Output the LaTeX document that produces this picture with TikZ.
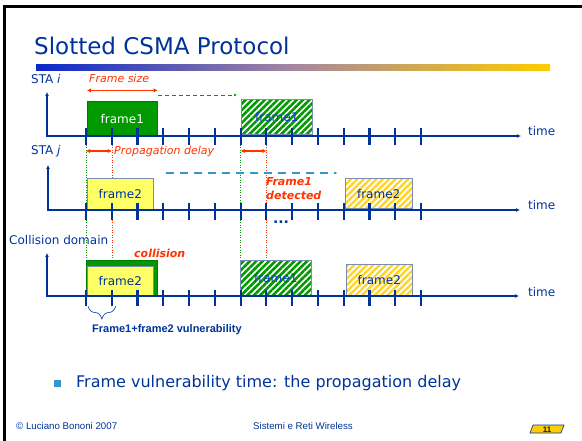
\documentclass[tikz,border=0pt]{standalone}
\usepackage{fontspec}
\setmainfont{DejaVu Sans}
\newfontfamily\arialfont{Liberation Sans}
\usetikzlibrary{arrows.meta,positioning,patterns.meta,decorations.pathreplacing,backgrounds}

\definecolor{slideblue}{RGB}{0,51,153}
\definecolor{brightblue}{RGB}{20,60,200}
\definecolor{barblue}{RGB}{10,40,200}
\definecolor{barmid}{RGB}{165,135,160}
\definecolor{slidegreen}{RGB}{0,153,0}
\definecolor{redorange}{RGB}{255,51,0}
\definecolor{paleyellow}{RGB}{255,255,102}
\definecolor{gold}{RGB}{255,204,0}
\definecolor{skyblue}{RGB}{51,153,204}
\definecolor{greyblue}{RGB}{120,140,180}

\begin{document}
\begin{tikzpicture}[x=1pt, y=-1pt,
    timeaxis/.style={slideblue, line width=2pt, {Latex[length=4pt,width=4pt]}-{Latex[length=4pt,width=4pt]}},
    slot/.style={slideblue, line width=2.2pt},
    lbl/.style={anchor=west, text=slideblue, inner sep=0pt, font=\fontsize{12}{14}\selectfont},
    note/.style={anchor=west, text=redorange, inner sep=0pt, font=\fontsize{11}{14}\selectfont\itshape},
    frm/.style={anchor=south west, inner sep=0pt, line width=0.6pt, font=\fontsize{12}{14}\selectfont},
    solidgreen/.style={frm, fill=slidegreen, draw=slidegreen!80!black, text=white},
    solidyellow/.style={frm, fill=paleyellow, draw=greyblue, text=slideblue},
    hatchgreen/.style={frm, draw=greyblue, text=brightblue, pattern={Lines[angle=45,distance=4.5pt,line width=2.6pt]}, pattern color=slidegreen},
    hatchyellow/.style={frm, draw=greyblue, text=slideblue, pattern={Lines[angle=45,distance=4.5pt,line width=2.4pt]}, pattern color=gold!85},
    delay/.style={redorange, line width=1.5pt, {Latex[length=4pt,width=4.5pt]}-{Latex[length=4pt,width=4.5pt]}},
    vline/.style={line width=0.5pt, dotted}
  ]
  \useasboundingbox (0,0) rectangle (582,441);
  \draw[line width=3pt] (4.3,441) -- (4.3,6.7) -- (582,6.7);

  \node[anchor=west, inner sep=0pt, text=slideblue, font=\fontsize{23}{26}\selectfont] (title) at (34,46) {Slotted CSMA Protocol};
  \shade[left color=barblue, right color=gold, middle color=barmid] (36,65) rectangle (550,71);

  \foreach \k in {0,...,13} {
    \path (86+25.77*\k,136) coordinate (si\k)
          (86+25.77*\k,210) coordinate (sj\k)
          (86+25.77*\k,296) coordinate (sc\k);
  }

  \node[solidgreen, minimum width=70, minimum height=34] (f1i) at (87,136) {frame1};
  \node[hatchgreen, minimum width=71, minimum height=35] (f1ib) at (240,136) {frame1};
  \node[solidyellow, minimum width=66, minimum height=31] (f2j) at (87,210) {frame2};
  \node[hatchyellow, minimum width=67, minimum height=30] (f2jb) at (344,210) {frame2};
  \node[solidgreen, minimum width=71, minimum height=35] (cf1) at (86,296) {};
  \node[solidyellow, minimum width=66, minimum height=29] (cf2) at (87,296) {frame2};
  \node[hatchgreen, minimum width=71, minimum height=35] (cf1b) at (240,296) {frame1};
  \node[hatchyellow, minimum width=66, minimum height=31] (cf2b) at (346,296) {frame2};

  \begin{scope}[on background layer]
    \draw[vline, slidegreen] ([yshift=-9pt]si0) -- (si0 |- cf1.north);
    \draw[vline, redorange] ([yshift=-9pt]si1) -- (si1 |- cf2.north);
    \draw[vline, slidegreen] ([yshift=-9pt]si6) -- (si6 |- cf1b.north);
    \draw[vline, redorange] ([yshift=-9pt]si7) -- (si7 |- cf1b.north);
  \end{scope}

  \coordinate (topi) at (47,92);
  \coordinate (endi) at (521,136);
  \coordinate (topj) at (48,165);
  \coordinate (endj) at (520,210);
  \coordinate (topc) at (47,253);
  \coordinate (endc) at (519,296);
  \draw[timeaxis] (topi) |- (endi);
  \draw[timeaxis] (topj) |- (endj);
  \draw[timeaxis] (topc) |- (endc);
  \foreach \k in {0,...,13} {
    \draw[slot] ([yshift=8pt]si\k) -- ([yshift=-9pt]si\k);
    \draw[slot] ([yshift=7pt]sj\k) -- ([yshift=-10pt]sj\k);
    \draw[slot] ([yshift=6pt]sc\k) -- ([yshift=-10pt]sc\k);
  }

  \node[lbl] (stai) at (31,79) {STA \textit{i}};
  \node[lbl] (staj) at (31,151) {STA \textit{j}};
  \node[lbl] (coll) at (9,240) {Collision domain};
  \node[lbl, right=7pt of endi, yshift=5pt] (timei) {time};
  \node[lbl, right=8pt of endj, yshift=5pt] (timej) {time};
  \node[lbl, right=9pt of endc, yshift=4pt] (timec) {time};

  \node[note] (fsize) at (89,78) {Frame size};
  \draw[delay] ([yshift=11pt]f1i.north west) -- ([yshift=11pt]f1i.north east);
  \coordinate (gs) at (158,95);
  \coordinate (ge) at (237,95);
  \draw[slidegreen, line width=0.9pt, dash pattern=on 4pt off 3pt, -{Latex[length=3pt,width=3pt]}] (gs) -- (ge);

  \node[note] (pdelay) at (114,151) {Propagation delay};
  \draw[delay] (si0 |- pdelay.west) -- (si1 |- pdelay.west);
  \draw[delay] (si6 |- pdelay.west) -- (si7 |- pdelay.west);

  \coordinate (cs) at (166,173);
  \coordinate (ce) at (337,173);
  \draw[skyblue, line width=1.2pt, dash pattern=on 8pt off 6pt, -{Latex[length=2pt,width=3pt]}] (cs) -- (ce);
  \node[note, anchor=north west, align=left, font=\fontsize{11}{14.5}\selectfont\bfseries\itshape] (det) at (266,177) {Frame1\\detected};
  \node[anchor=center, text=slideblue, font=\fontsize{14}{14}\selectfont\bfseries] (dots) at (281,222) {...};

  \node[note, font=\fontsize{11}{14}\selectfont\bfseries\itshape] (coltxt) at (134,253) {collision};
  \draw[slideblue, line width=0.6pt, decorate, decoration={brace, mirror, amplitude=13pt}] ([shift={(2pt,-10pt)}]sc0) -- ([shift={(4pt,-10pt)}]sc1);
  \node[anchor=west, inner sep=0pt, text=slideblue, font=\arialfont\fontsize{11}{13}\selectfont\bfseries] (vuln) at (92,330) {Frame1+frame2 vulnerability};

  \fill[skyblue] (54,380) rectangle (61,387);
  \node[anchor=west, inner sep=0pt, text=slideblue, font=\fontsize{16}{18}\selectfont] (bullet) at (76,383) {Frame vulnerability time: the propagation delay};

  \node[anchor=west, inner sep=0pt, text=slideblue, font=\arialfont\fontsize{9.7}{11}\selectfont] (author) at (16,426) {© Luciano Bononi 2007};
  \node[inner sep=0pt, text=slideblue, font=\arialfont\fontsize{9.7}{11}\selectfont] (course) at (303,426) {Sistemi e Reti Wireless};
  \draw[slideblue, fill=gold, line width=0.6pt] (533,425) -- (564,425) -- (561,433) -- (530,433) -- cycle;
  \node[inner sep=0pt, text=slideblue!60!black, font=\arialfont\fontsize{8}{9}\selectfont\bfseries] (pagenr) at (547,429.5) {11};
\end{tikzpicture}
\end{document}
